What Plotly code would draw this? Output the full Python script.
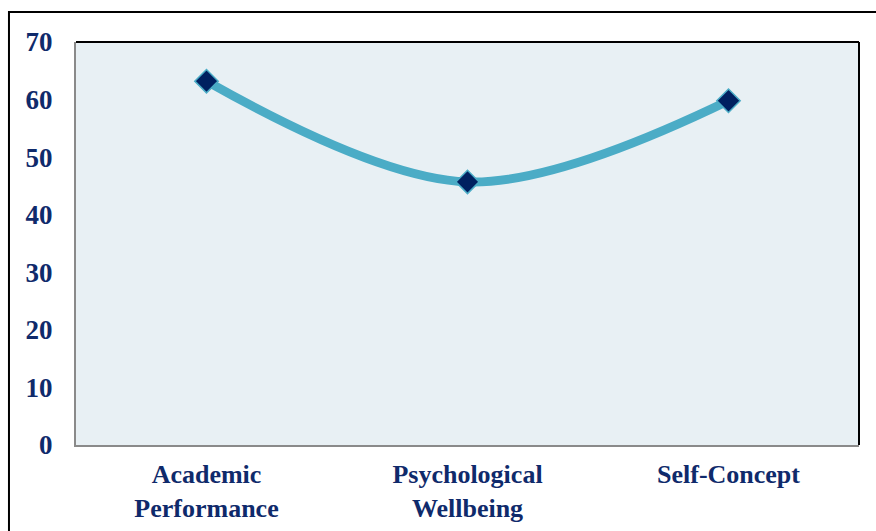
import plotly.graph_objects as go

categories = ["Academic<br>Performance", "Psychological<br>Wellbeing", "Self-Concept"]
values = [63.2, 45.7, 59.8]
y_ticks = [0, 10, 20, 30, 40, 50, 60, 70]

navy = "#0f2a6b"
teal = "#4bacc6"

fig = go.Figure()
fig.add_trace(go.Scatter(
    x=categories, y=values, mode="lines+markers",
    line=dict(color=teal, width=9, shape="spline", smoothing=1),
    marker=dict(symbol="diamond", size=18, color="#002060",
                line=dict(color=teal, width=1.5)),
    hoverinfo="x+y", showlegend=False,
))

font = dict(family="Liberation Serif", size=26, color=navy)

fig.update_layout(
    width=876, height=531,
    margin=dict(l=76, r=17, t=42, b=86, autoexpand=False),
    paper_bgcolor="white",
    plot_bgcolor="#e8f0f4",
    font=font,
    xaxis=dict(range=[-0.5, 2.5], showgrid=False, zeroline=False, automargin=False,
               showline=True, linecolor="#8a8a8a", linewidth=2,
               ticks="", tickfont=dict(family="Liberation Serif", size=26, color=navy, weight="bold"),
               ticklabelstandoff=5),
    yaxis=dict(range=[0, 70], tickvals=y_ticks, showgrid=False, zeroline=False, automargin=False,
               showline=True, linecolor="#8a8a8a", linewidth=2,
               ticks="", tickfont=dict(family="Liberation Serif", size=27, color=navy, weight="bold"),
               ticklabelstandoff=16),
    shapes=[
        dict(type="line", xref="paper", yref="paper", x0=0, x1=1, y0=1, y1=1,
             line=dict(color="black", width=2)),
        dict(type="line", xref="paper", yref="paper", x0=1, x1=1, y0=0, y1=1,
             line=dict(color="black", width=2)),
        dict(type="rect", xref="paper", yref="paper", x0=-0.0856, x1=1.05,
             y0=-0.3, y1=1.0744, line=dict(color="black", width=2),
             fillcolor="rgba(0,0,0,0)", layer="below"),
    ],
)

fig.write_html("out.html")
